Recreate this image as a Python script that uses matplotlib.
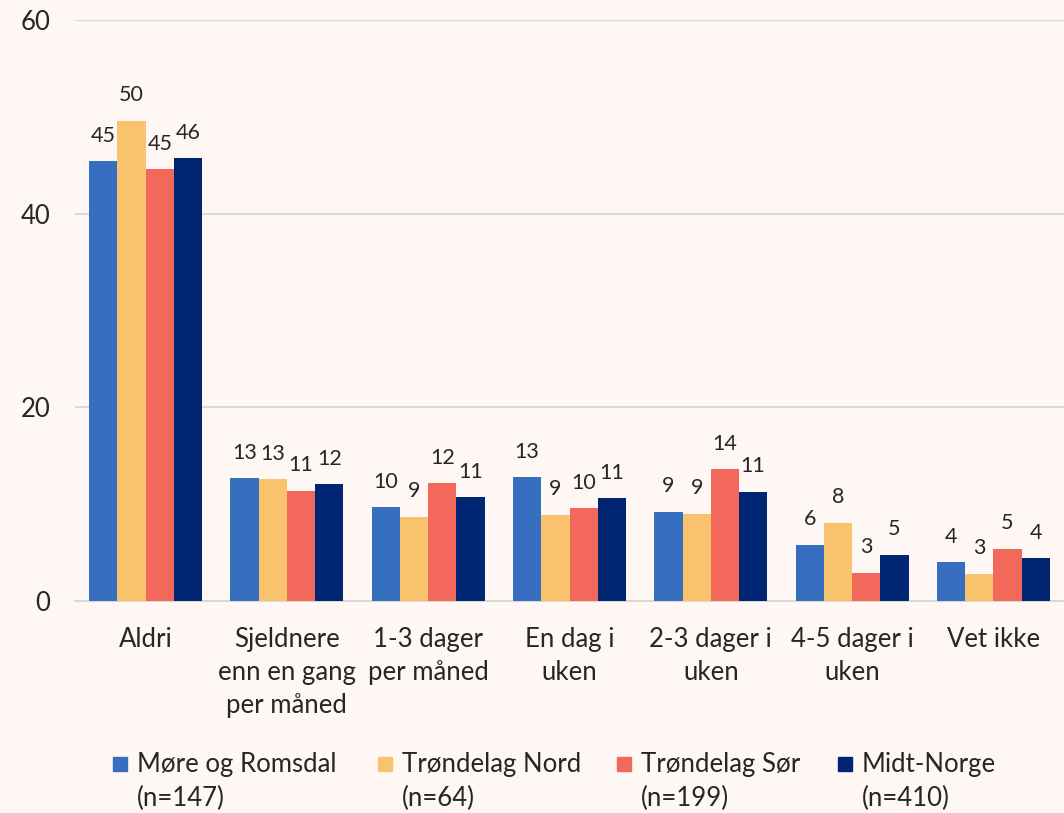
import numpy as np
import matplotlib
matplotlib.use('Agg')
from matplotlib import pyplot as plt
from matplotlib.patches import Rectangle

plt.rcParams['font.family'] = ['Lato', 'DejaVu Sans']

categories = ['Aldri', 'Sjeldnere\nenn en gang\nper måned', '1-3 dager\nper måned',
              'En dag i\nuken', '2-3 dager i\nuken', '4-5 dager i\nuken', 'Vet ikke']
series_names = ['Møre og Romsdal', 'Trøndelag Nord', 'Trøndelag Sør', 'Midt-Norge']
series_n = ['(n=147)', '(n=64)', '(n=199)', '(n=410)']
more_romsdal = [45.4, 12.7, 9.7, 12.8, 9.2, 5.8, 4.0]
trondelag_nord = [49.6, 12.55, 8.7, 8.9, 9.0, 8.1, 2.8]
trondelag_sor = [44.6, 11.4, 12.15, 9.6, 13.6, 2.9, 5.4]
midt_norge = [45.7, 12.05, 10.7, 10.6, 11.3, 4.8, 4.4]
colors = ['#366EC0', '#F9C36E', '#F2695B', '#002673']

bg = '#FEF7F4'
txt = '#262626'

fig = plt.figure(figsize=(10.64, 8.13), dpi=100, facecolor=bg)
ax = fig.add_axes([75/1064, 1-601/813, 1-75/1064, (601-20)/813])
ax.set_facecolor(bg)

x = np.arange(len(categories))
w = 0.2
all_series = [more_romsdal, trondelag_nord, trondelag_sor, midt_norge]
for i, vals in enumerate(all_series):
    pos = x + (i - 1.5) * w
    ax.bar(pos, vals, width=w, color=colors[i], zorder=3)
    for p, v in zip(pos, vals):
        ax.text(p, v + 1.6, f"{round(v)}", ha='center', va='bottom',
                fontsize=15.5, color=txt)

ax.set_xlim(-0.5, len(categories) - 0.5)
ax.set_ylim(0, 60)
ax.set_yticks([0, 20, 40, 60])
ax.yaxis.grid(True, color='#D9D9D9', lw=1.5, zorder=0)
ax.set_xticks(x)
ax.set_xticklabels(categories, fontsize=18.5, color=txt, linespacing=1.4)
ax.tick_params(axis='both', length=0, labelsize=18.5, colors=txt)
ax.tick_params(axis='y', pad=18)
ax.tick_params(axis='x', pad=19)
for s in ['left', 'right', 'top']:
    ax.spines[s].set_visible(False)
ax.spines['bottom'].set_color('#D9D9D9')
ax.spines['bottom'].set_linewidth(1.5)

# legend drawn by hand so the squares line up with the first text line
leg_x = [113, 378, 617, 838]
for lx, name, n, c in zip(leg_x, series_names, series_n, colors):
    fig.patches.append(Rectangle((lx/1064, 1-771/813), 14/1064, 14/813,
                                 transform=fig.transFigure, color=c))
    fig.text((lx+24)/1064, 1-764/813, name, fontsize=18.5, color=txt, va='center')
    fig.text((lx+24)/1064, 1-798/813, n, fontsize=18.5, color=txt, va='center')

fig.savefig('out.png', dpi=100, facecolor=bg)
